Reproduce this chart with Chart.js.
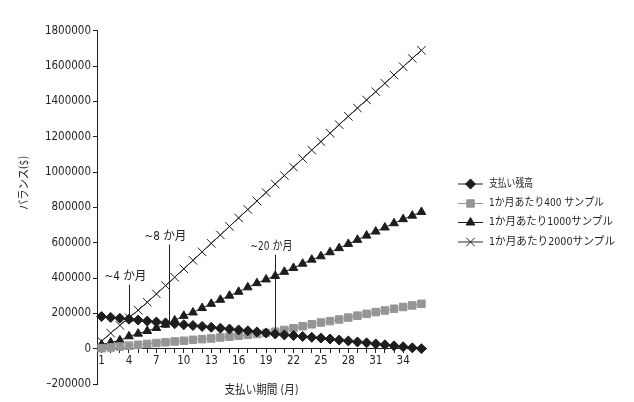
<!DOCTYPE html>
<html>
<head>
<meta charset="utf-8">
<script src="https://cdn.jsdelivr.net/npm/chart.js@4.4.0/dist/chart.umd.min.js"></script>
<style>
  html, body { margin: 0; padding: 0; background: #fff; }
  #wrap { width: 634px; height: 402px; }
</style>
</head>
<body>
<div id="wrap"><canvas id="chart"></canvas></div>
<script>
// Mois (axe X)
const months = ['1','2','3','4','5','6','7','8','9','10','11','12','13','14','15','16','17','18',
  '19','20','21','22','23','24','25','26','27','28','29','30','31','32','33','34','35','36'];

// Séries
const balance = [182000, 177000, 172000, 167000, 162000, 156000, 151000, 146000, 141000, 136000,
  131000, 126000, 121000, 116000, 111000, 106000, 101000, 95000, 89000, 83000, 78000, 74000,
  69000, 64000, 60000, 55000, 49000, 44000, 38000, 33000, 27000, 22000, 16000, 11000, 5000, 0];
const per400 = [3000, 7000, 12000, 17000, 22000, 27000, 32000, 36000, 41000, 45000, 50000, 54000,
  58000, 63000, 68000, 73000, 78000, 83000, 89000, 96000, 106000, 116000, 127000, 138000, 148000,
  156000, 165000, 176000, 187000, 197000, 207000, 216000, 226000, 236000, 245000, 254000];
const per1000 = [23000, 35000, 47000, 70000, 85000, 100000, 117000, 136000, 160000, 186000, 205000,
  230000, 254000, 277000, 300000, 322000, 347000, 371000, 392000, 412000, 435000, 457000, 481000,
  504000, 523000, 546000, 569000, 593000, 616000, 640000, 663000, 686000, 710000, 733000, 753000, 774000];
const per2000 = [42000, 88000, 132000, 175000, 218000, 263000, 310000, 357000, 404000, 452000, 500000,
  548000, 596000, 644000, 692000, 740000, 788000, 836000, 884000, 932000, 980000, 1028000, 1076000,
  1124000, 1172000, 1220000, 1268000, 1315000, 1362000, 1408000, 1455000, 1502000, 1549000, 1596000,
  1643000, 1689000];

const seriesNames = ['支払い残高', '1か月あたり400 サンプル', '1か月あたり1000サンプル', '1か月あたり2000サンプル'];

// Annotations (mois, haut et bas du trait)
const noteLabels = ['~4 か月', '~8 か月', '~20 か月'];
const noteMonth = [4, 8.4, 20];
const noteTop = [362000, 589000, 532000];
const noteBottom = [164000, 136000, 79000];

const INK = '#231f20';
const NARROW = '"Liberation Sans Narrow", "DejaVu Sans Condensed", "Noto Sans CJK JP", sans-serif';

function drawMarker(ctx, ds, x, y) {
  ctx.fillStyle = ds.pointBackgroundColor;
  ctx.strokeStyle = ds.pointBorderColor;
  ctx.lineWidth = ds.pointBorderWidth;
  Chart.helpers.drawPoint(ctx, {
    pointStyle: ds.pointStyle, rotation: 0, radius: ds.pointRadius, borderWidth: ds.pointBorderWidth
  }, x, y);
}

// Titres, annotations et légende
const decorations = {
  id: 'decorations',
  afterDraw(chart) {
    const { ctx, scales: { x, y } } = chart;
    ctx.save();
    ctx.fillStyle = INK;
    ctx.strokeStyle = INK;
    ctx.lineWidth = 1;
    ctx.textBaseline = 'middle';
    ctx.textAlign = 'center';
    ctx.font = '12.5px ' + NARROW;
    noteLabels.forEach((t, i) => {
      const px = Math.round(x.getPixelForValue(noteMonth[i] - 1)) + 0.5;
      const top = y.getPixelForValue(noteTop[i]);
      const bot = y.getPixelForValue(noteBottom[i]);
      ctx.beginPath();
      ctx.moveTo(px, top);
      ctx.lineTo(px, bot);
      ctx.stroke();
      ctx.fillText(t, px - 4, top - 8, 42);
    });

    ctx.font = '12px ' + NARROW;
    ctx.fillText('支払い期間 (月)', (x.left + x.right) / 2, 391, 74);
    ctx.save();
    ctx.translate(25, 183);
    ctx.rotate(-Math.PI / 2);
    ctx.fillText('バランス($)', 0, 0, 54);
    ctx.restore();

    // légende
    const rows = [184, 203.5, 222.5, 242];
    const widths = [44, 115, 124, 126];
    ctx.textAlign = 'left';
    ctx.font = '11px ' + NARROW;
    chart.data.datasets.forEach((ds, i) => {
      const ly = rows[i];
      ctx.strokeStyle = ds.borderColor;
      ctx.lineWidth = ds.borderWidth;
      ctx.beginPath();
      ctx.moveTo(458, ly);
      ctx.lineTo(483, ly);
      ctx.stroke();
      drawMarker(ctx, ds, 470.5, ly);
      ctx.fillStyle = INK;
      ctx.fillText(seriesNames[i], 489, ly, widths[i]);
    });
    ctx.restore();
  }
};

const datasets = [
  { label: seriesNames[0], data: balance, borderColor: '#1e1c1d', pointStyle: 'rectRot', pointRadius: 5,
    pointBackgroundColor: '#1e1c1d', pointBorderColor: '#1e1c1d' },
  { label: seriesNames[1], data: per400, borderColor: '#9a9a9a', pointStyle: 'rect', pointRadius: 5.3,
    pointBackgroundColor: '#959595', pointBorderColor: '#959595' },
  { label: seriesNames[2], data: per1000, borderColor: '#1e1c1d', pointStyle: 'triangle', pointRadius: 5,
    pointBackgroundColor: '#1e1c1d', pointBorderColor: '#1e1c1d' },
  { label: seriesNames[3], data: per2000, borderColor: '#2a2a2a', pointStyle: 'crossRot', pointRadius: 6,
    pointBackgroundColor: '#1e1c1d', pointBorderColor: '#1e1c1d' }
].map(ds => Object.assign({ borderWidth: 1, pointBorderWidth: 1, pointHoverRadius: ds.pointRadius,
  tension: 0, fill: false }, ds));

const config = {
  type: 'line',
  data: { labels: months, datasets: datasets },
  options: {
    responsive: true,
    maintainAspectRatio: false,
    animation: false,
    layout: { padding: { top: 30.7, right: 208, bottom: 18, left: 0 } },
    plugins: { legend: { display: false }, tooltip: { enabled: false } },
    scales: {
      x: {
        type: 'category',
        position: { y: 0 },
        offset: true,
        grid: { drawOnChartArea: false, drawTicks: true, tickLength: 4, color: INK },
        border: { display: true, color: INK, width: 1 },
        ticks: {
          autoSkip: false, maxRotation: 0, padding: 1, color: INK,
          font: { family: NARROW, size: 11.5 },
          callback: (v, i) => (i % 3 === 0 ? months[i] : '')
        }
      },
      y: {
        min: -200000,
        max: 1800000,
        grid: { drawOnChartArea: false, drawTicks: true, tickLength: 4, color: INK },
        border: { display: true, color: INK, width: 1 },
        ticks: {
          stepSize: 200000, padding: 2, color: INK,
          font: { family: NARROW, size: 11.5 },
          callback: v => (v < 0 ? '–' + Math.abs(v) : String(v))
        },
        afterFit: scale => { scale.width = 97; }
      }
    }
  },
  plugins: [decorations]
};

const ctx = document.getElementById('chart').getContext('2d');
const myChart = new Chart(ctx, config);
</script>
</body>
</html>
